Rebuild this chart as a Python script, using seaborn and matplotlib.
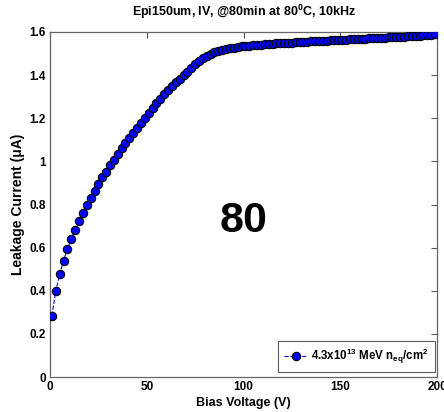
import matplotlib
matplotlib.use("Agg")
import matplotlib.pyplot as plt
import seaborn as sns
import pandas as pd

bias_voltage = [1, 3, 5, 7, 9, 11, 13, 15, 17, 19, 21, 23, 25, 27, 29, 31, 33, 35, 37, 39,
                41, 43, 45, 47, 49, 51, 53, 55, 57, 59, 61, 63, 65, 67, 69, 71, 73, 75, 77, 79,
                81, 83, 85, 87, 89, 91, 93, 95, 97, 99, 101, 103, 105, 107, 109, 111, 113, 115, 117, 119,
                121, 123, 125, 127, 129, 131, 133, 135, 137, 139, 141, 143, 145, 147, 149, 151, 153, 155, 157, 159,
                161, 163, 165, 167, 169, 171, 173, 175, 177, 179, 181, 183, 185, 187, 189, 191, 193, 195, 197, 199]
leakage_current = [0.285, 0.400, 0.476, 0.540, 0.592, 0.640, 0.683, 0.724, 0.762, 0.798,
                   0.832, 0.864, 0.896, 0.926, 0.953, 0.981, 1.008, 1.034, 1.060, 1.085,
                   1.109, 1.133, 1.156, 1.180, 1.203, 1.226, 1.248, 1.270, 1.291, 1.311,
                   1.331, 1.350, 1.367, 1.384, 1.400, 1.416, 1.433, 1.450, 1.465, 1.478,
                   1.489, 1.498, 1.505, 1.511, 1.516, 1.520, 1.524, 1.527, 1.530, 1.533,
                   1.535, 1.537, 1.539, 1.540, 1.542, 1.543, 1.545, 1.546, 1.547, 1.548,
                   1.549, 1.550, 1.551, 1.552, 1.553, 1.554, 1.555, 1.556, 1.557, 1.558,
                   1.559, 1.560, 1.561, 1.562, 1.563, 1.564, 1.565, 1.566, 1.566, 1.567,
                   1.568, 1.569, 1.570, 1.571, 1.572, 1.573, 1.574, 1.575, 1.576, 1.577,
                   1.578, 1.579, 1.580, 1.581, 1.582, 1.583, 1.584, 1.585, 1.587, 1.589]
series_label = r"4.3x10$^{\mathbf{13}}$ MeV n$_{\mathbf{eq}}$/cm$^{\mathbf{2}}$"
x_ticks = [0, 50, 100, 150, 200]
y_ticks = [0, 0.2, 0.4, 0.6, 0.8, 1.0, 1.2, 1.4, 1.6]
y_tick_labels = ["0", "0.2", "0.4", "0.6", "0.8", "1", "1.2", "1.4", "1.6"]
title_text = r"Epi150um, IV, @80min at 80$^{\mathbf{0}}$C, 10kHz"
annotation_text = "80"

sns.set_style("white")
plt.rcParams['font.family'] = ['Liberation Sans', 'DejaVu Sans']
plt.rcParams['text.color'] = 'black'
plt.rcParams['axes.labelcolor'] = 'black'
plt.rcParams['mathtext.fontset'] = 'custom'
plt.rcParams['mathtext.rm'] = 'Liberation Sans:bold'
plt.rcParams['mathtext.it'] = 'Liberation Sans:bold'
plt.rcParams['mathtext.bf'] = 'Liberation Sans:bold'

df = pd.DataFrame({"V": bias_voltage, "I": leakage_current})

fig = plt.figure(figsize=(4.44, 4.12), dpi=100)
ax = fig.add_axes([50/444, 35/412, 387/444, 345/412])

sns.lineplot(data=df, x="V", y="I", ax=ax, color="#0000ff", linestyle="--", linewidth=0.8,
             marker="o", markersize=6, markerfacecolor="#0000ff", markeredgecolor="black",
             markeredgewidth=0.8, label=series_label, zorder=3)

ax.set_xlim(0, 200)
ax.set_ylim(0, 1.6)
ax.set_xticks(x_ticks)
ax.set_xticklabels([str(t) for t in x_ticks])
ax.set_yticks(y_ticks)
ax.set_yticklabels(y_tick_labels)
ax.tick_params(direction="in", length=4, width=0.8, top=True, right=True,
               labelsize=8.5, colors="#555555", labelcolor="black", pad=3)
for lab in ax.get_xticklabels() + ax.get_yticklabels():
    lab.set_fontweight("bold")
for sp in ax.spines.values():
    sp.set_color("#666666")
    sp.set_linewidth(0.9)

ax.set_xlabel("Bias Voltage (V)", fontsize=9, fontweight="bold", labelpad=3)
ax.set_ylabel("Leakage Current (\u03bcA)", fontsize=10, fontweight="bold", labelpad=3)
fig.text(0.5 * (50 + 437) / 444, 1 - 12/412, title_text, ha="center", va="center",
         fontsize=9, fontweight="bold")

ax.text(0.499, 0.452, annotation_text, transform=ax.transAxes, ha="center", va="center",
        fontsize=31, fontweight="bold")

leg = ax.legend(loc="lower right", fontsize=8.3, frameon=True, fancybox=False,
                handlelength=2.0, borderpad=0.5, handletextpad=0.35, borderaxespad=0.0,
                bbox_to_anchor=(0.994, 0.015))
leg.get_frame().set_edgecolor("#333333")
leg.get_frame().set_linewidth(0.8)
for t in leg.get_texts():
    t.set_fontweight("bold")

fig.savefig("out.png", dpi=100)
